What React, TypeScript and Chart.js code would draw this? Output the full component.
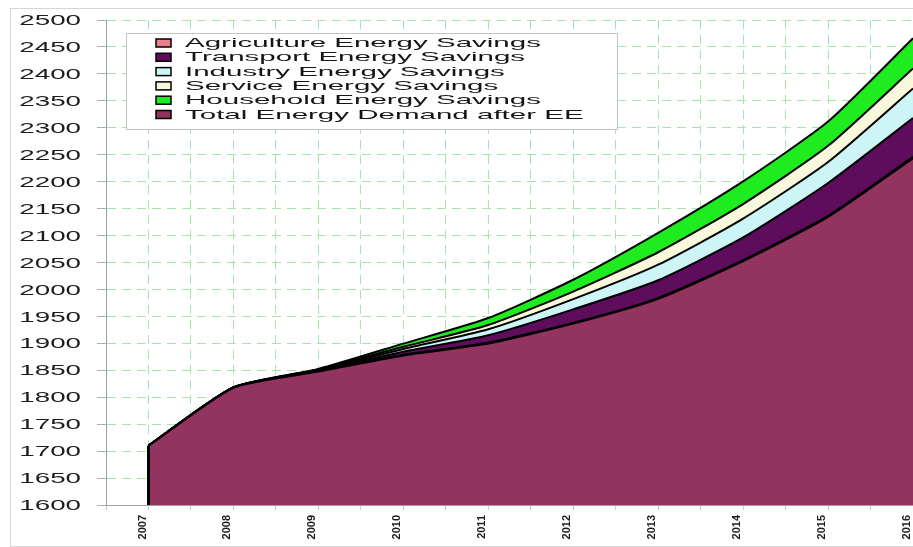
import { useEffect, useRef } from 'react';
import { Chart, registerables } from 'chart.js';

Chart.register(...registerables);

// ---- data ----
const years = [2007, 2008, 2009, 2010, 2011, 2012, 2013, 2014, 2015, 2016];
const totalDemandAfterEE = [1710, 1818, 1848, 1878, 1900, 1937, 1983, 2053, 2135, 2244];
const agricultureSavings = [0, 0, 0.5, 0.5, 1, 1, 1, 1.5, 1.5, 2];
const transportSavings = [0, 0, 1, 6, 14, 25, 33, 42, 61, 72];
const industrySavings = [0, 0, 1, 5, 11, 19, 29, 35, 39, 55];
const serviceSavings = [0, 0, 1, 4, 8, 14, 23, 27, 30, 37];
const householdSavings = [0, 0, 1, 6, 13, 22, 36, 42, 45, 56];

const seriesLabels = [
  'Total Energy Demand after EE',
  'Agriculture Energy Savings',
  'Transport Energy Savings',
  'Industry Energy Savings',
  'Service Energy Savings',
  'Household Energy Savings',
];
const seriesColors = ['#93335f', '#e8808a', '#5e0c5c', '#cdf5f5', '#faf8dc', '#1fec1f'];
const legendOrder = [1, 2, 3, 4, 5, 0];

const yMin = 1600;
const yMax = 2500;
const yStep = 50;
const xMin = 2006.5;
const xMax = 2016;
const xGridStep = 0.5;

const LABEL_FONT = '"Liberation Sans", Arial, sans-serif';

const customDraw = {
  id: 'customDraw',
  beforeDraw(chart: any) {
    const ctx = chart.ctx;
    ctx.save();
    ctx.fillStyle = '#ffffff';
    ctx.fillRect(0, 0, chart.width, chart.height);
    ctx.strokeStyle = '#d6d6d6';
    ctx.lineWidth = 1;
    ctx.strokeRect(10.5, 8.5, chart.width, chart.height - 9);
    ctx.restore();
  },
  afterDatasetsDraw(chart: any) {
    const ctx = chart.ctx;
    const meta = chart.getDatasetMeta(0);
    const p = meta.data[0];
    if (p) {
      ctx.save();
      ctx.strokeStyle = '#000';
      ctx.lineWidth = 3;
      ctx.beginPath();
      ctx.moveTo(p.x, p.y);
      ctx.lineTo(p.x, chart.chartArea.bottom);
      ctx.stroke();
      ctx.restore();
    }
  },
  afterDraw(chart: any) {
    const ctx = chart.ctx;
    const ys = chart.scales.y;
    const xs = chart.scales.x;
    // y labels (stretched)
    ctx.save();
    ctx.fillStyle = '#1c1c1c';
    ctx.font = `15px ${LABEL_FONT}`;
    ctx.textAlign = 'right';
    ctx.textBaseline = 'middle';
    ys.ticks.forEach((t: any) => {
      const py = ys.getPixelForValue(t.value);
      ctx.save();
      ctx.translate(81, py + 1);
      ctx.scale(1.85, 1);
      ctx.fillText(String(t.value), 0, 0);
      ctx.restore();
    });
    ctx.restore();
    // x labels (rotated)
    ctx.save();
    ctx.fillStyle = '#1c1c1c';
    ctx.font = `bold 11px ${LABEL_FONT}`;
    ctx.textAlign = 'right';
    ctx.textBaseline = 'middle';
    years.forEach((yr) => {
      const px = xs.getPixelForValue(yr);
      ctx.save();
      ctx.translate(px - 6, chart.chartArea.bottom + 10);
      ctx.rotate(-Math.PI / 2);
      ctx.fillText(String(yr), 0, 0);
      ctx.restore();
    });
    ctx.restore();
    // legend
    ctx.save();
    const bx = 126, by = 33, bw = 491, bh = 96;
    ctx.fillStyle = '#ffffff';
    ctx.fillRect(bx, by, bw, bh);
    ctx.strokeStyle = '#c4c4c4';
    ctx.lineWidth = 1;
    ctx.strokeRect(bx + 0.5, by + 0.5, bw, bh);
    ctx.font = `13px ${LABEL_FONT}`;
    ctx.textAlign = 'left';
    ctx.textBaseline = 'middle';
    legendOrder.forEach((di, i) => {
      const cy = 43 + i * 14.3;
      ctx.fillStyle = seriesColors[di];
      ctx.fillRect(156, cy - 4, 15, 8);
      ctx.strokeStyle = '#000';
      ctx.lineWidth = 1.5;
      ctx.strokeRect(156, cy - 4, 15, 8);
      ctx.fillStyle = '#151515';
      ctx.save();
      ctx.translate(185, cy + 0.5);
      ctx.scale(2.27, 1);
      ctx.fillText(seriesLabels[di], 0, 0);
      ctx.restore();
    });
    ctx.restore();
  },
};

const seriesValues = [
  totalDemandAfterEE,
  agricultureSavings,
  transportSavings,
  industrySavings,
  serviceSavings,
  householdSavings,
];

export default function App() {
  const ref = useRef<HTMLCanvasElement | null>(null);
  useEffect(() => {
    if (!ref.current) return;
    const datasets = seriesValues.map((vals, i) => ({
      label: seriesLabels[i],
      data: years.map((yr, j) => ({ x: yr, y: vals[j] })),
      backgroundColor: seriesColors[i],
      borderColor: '#000000',
      borderWidth: i === 0 ? 2.5 : 2,
      pointRadius: 0,
      tension: 0.2,
      fill: i === 0 ? 'start' : '-1',
    }));
    const chart = new Chart(ref.current, {
      type: 'line',
      data: { datasets },
      options: {
        animation: false,
        responsive: false,
        maintainAspectRatio: false,
        devicePixelRatio: 1,
        layout: { padding: { left: 0, top: 20, right: 0, bottom: 0 } },
        plugins: { legend: { display: false }, tooltip: { enabled: false } },
        scales: {
          x: {
            type: 'linear',
            min: xMin,
            max: xMax,
            ticks: { display: false, stepSize: xGridStep, autoSkip: false },
            grid: {
              color: '#a6e6ae',
              lineWidth: 1,
              drawTicks: true,
              tickLength: 5,
              tickColor: '#c8c8c8',
              tickBorderDash: [],
            } as any,
            border: { display: true, color: '#a0a0a0', width: 1, dash: [9, 6] },
            afterFit: (s: any) => {
              s.height = 42;
            },
          },
          y: {
            type: 'linear',
            stacked: true,
            min: yMin,
            max: yMax,
            ticks: { display: false, stepSize: yStep, autoSkip: false },
            grid: {
              color: '#a6e6ae',
              lineWidth: 1,
              drawTicks: true,
              tickLength: 9,
              tickColor: '#b0b0b0',
              tickBorderDash: [],
            } as any,
            border: { display: true, color: '#a0a0a0', width: 1, dash: [9, 6] },
            afterFit: (s: any) => {
              s.width = 106;
            },
          },
        },
      },
      plugins: [customDraw],
    } as any);
    return () => chart.destroy();
  }, []);
  return (
    <div style={{ position: 'absolute', left: 0, top: 0, width: 913, height: 547 }}>
      <canvas ref={ref} width={913} height={547} style={{ width: 913, height: 547, display: 'block' }} />
    </div>
  );
}
